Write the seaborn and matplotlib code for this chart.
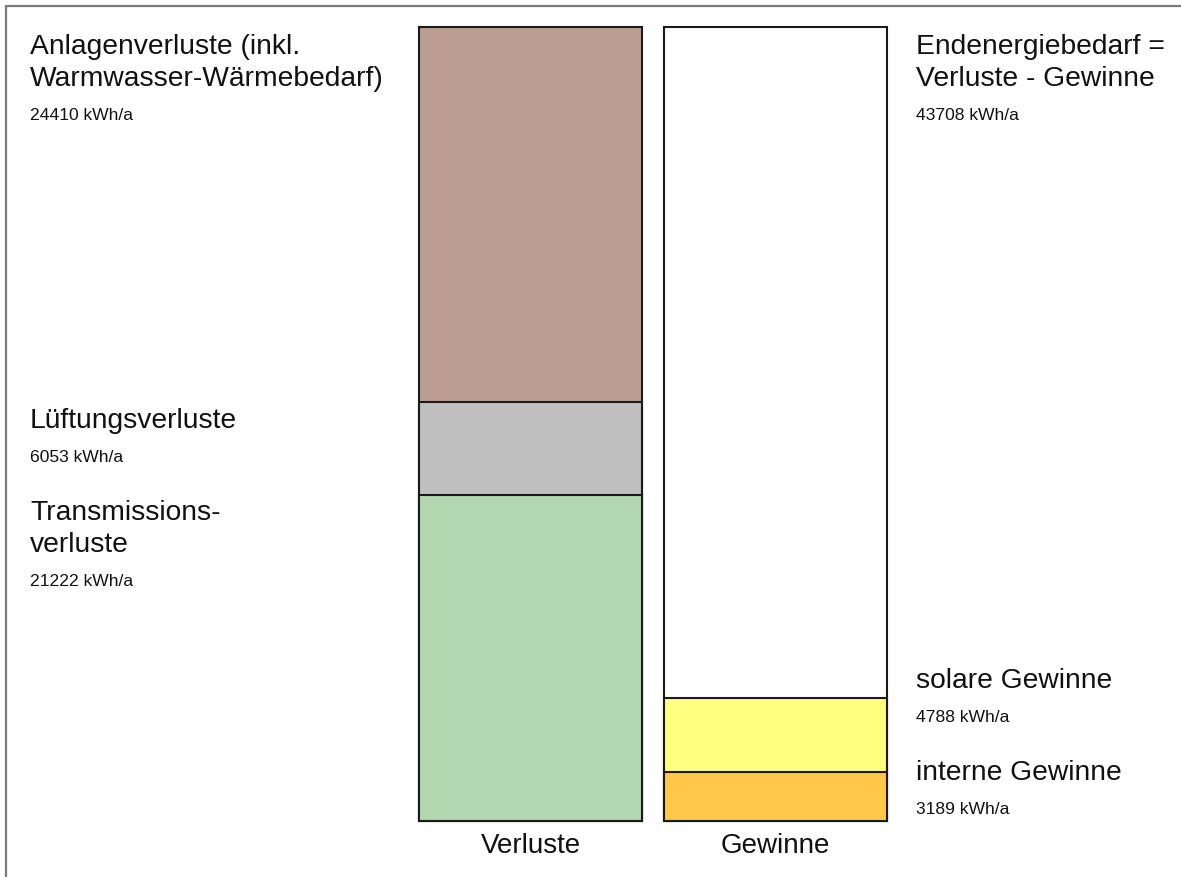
import numpy as np
import pandas as pd
import matplotlib
matplotlib.use("Agg")
import matplotlib.pyplot as plt
import seaborn as sns
from matplotlib.lines import Line2D

# --- data -------------------------------------------------------------
categories = ["Verluste", "Gewinne"]

# losses, stacked bottom to top
verluste_labels = ["Transmissions-\nverluste", "Lüftungsverluste",
                   "Anlagenverluste (inkl.\nWarmwasser-Wärmebedarf)"]
verluste_values = [21222, 6053, 24410]
verluste_colors = ["#b2d7b0", "#bfbfbf", "#bc9d91"]

# gains, stacked bottom to top
gewinne_labels = ["interne Gewinne", "solare Gewinne",
                  "Endenergiebedarf =\nVerluste - Gewinne"]
gewinne_values = [3189, 4788, 43708]
gewinne_colors = ["#ffc84a", "#ffff80", "#ffffff"]

unit = "kWh/a"

# --- figure -----------------------------------------------------------
sns.set_theme(style="white")
plt.rcParams["font.family"] = ["Liberation Sans", "DejaVu Sans"]

W, H = 1181, 878
fig = plt.figure(figsize=(W / 100, H / 100), dpi=100)
fig.patch.set_facecolor("white")

# axes box in pixel terms: bars span x 419..887, y 28..821
left, right, top, bottom = 419, 887, 28, 822
ax = fig.add_axes([left / W, 1 - bottom / H, (right - left) / W, (bottom - top) / H])

cum_v = np.cumsum(verluste_values)
cum_g = np.cumsum(gewinne_values)

# stacked bars: draw cumulative totals from the top layer downwards
for i in range(len(verluste_values) - 1, -1, -1):
    df = pd.DataFrame({"cat": categories, "val": [cum_v[i], cum_g[i]]})
    sns.barplot(data=df, x="cat", y="val", hue="cat",
                palette=[verluste_colors[i], gewinne_colors[i]],
                saturation=1, width=0.914, edgecolor="#1a1a1a",
                linewidth=1.5, legend=False, ax=ax)

for p in ax.patches:
    p.set_clip_on(False)

ax.set_xlim(-0.457, 1.457)
ax.set_ylim(0, max(cum_v[-1], cum_g[-1]))
for s in ax.spines.values():
    s.set_visible(False)
ax.set_yticks([])
ax.set_xlabel("")
ax.set_ylabel("")
ax.tick_params(axis="x", length=0, pad=8, labelsize=20, labelcolor="#111111")

# --- side labels ------------------------------------------------------
big, small = 20.3, 12.6
line_step = 32
value_gap = 34


def fy(py):
    return 1 - py / H


def put_label(x_px, base_px, title, value):
    lines = title.split("\n")
    for k, line in enumerate(lines):
        fig.text(x_px / W, fy(base_px + k * line_step), line, fontsize=big,
                 ha="left", va="baseline", color="#111111")
    vb = base_px + (len(lines) - 1) * line_step + value_gap
    fig.text(x_px / W, fy(vb), f"{value} {unit}", fontsize=small,
             ha="left", va="baseline", color="#111111")


left_bases = [520, 428, 54]
right_bases = [780, 688, 54]
for lab, val, b in zip(verluste_labels, verluste_values, left_bases):
    put_label(30, b, lab, val)
for lab, val, b in zip(gewinne_labels, gewinne_values, right_bases):
    put_label(916, b, lab, val)

# grey frame along the top and left edge
fig.add_artist(Line2D([6 / W, 6 / W, 1.0], [0.0, fy(7), fy(7)],
                      transform=fig.transFigure, color="#7a7a7a", lw=1.6))

fig.savefig("out.png", dpi=100, facecolor="white")
